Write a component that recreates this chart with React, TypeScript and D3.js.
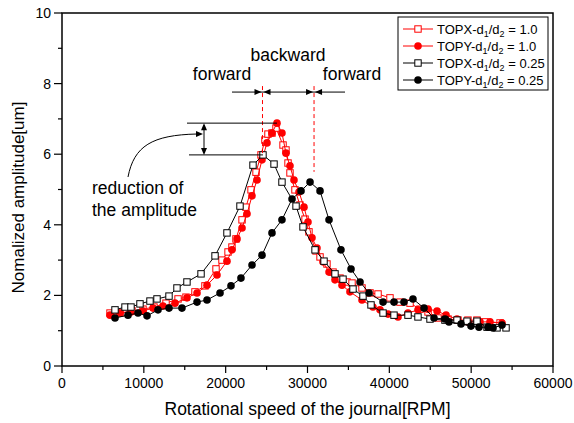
import React from "react";
import * as d3 from "d3";

const W = 574;
const H = 423;

// TOPX-d1/d2 = 1.0 (red open squares)
const topx10X = [5866, 7088, 8554, 9898, 11240, 12710, 14180, 15150, 16250, 17470, 18820, 19550, 20290, 20770, 21260, 22000, 22480, 23100, 23710, 24320, 24800, 25170, 25660, 26150, 27010, 27370, 27620, 27860, 28470, 29080, 29700, 30180, 31040, 31530, 32380, 33120, 33970, 34830, 35440, 36660, 37640, 38620, 40080, 41300, 42530, 43750, 44730, 45950, 47170, 48390, 49610, 50710, 51690, 53530];
const topx10Y = [1.5, 1.5, 1.56, 1.61, 1.67, 1.78, 1.9, 1.95, 2.1, 2.27, 2.75, 3.0, 3.23, 3.37, 3.6, 4.14, 4.5, 4.99, 5.49, 5.98, 6.4, 6.57, 6.6, 6.74, 6.26, 6.12, 5.75, 5.47, 4.99, 4.56, 4.16, 3.8, 3.26, 3.09, 2.89, 2.66, 2.49, 2.38, 2.35, 2.21, 2.07, 2.04, 1.93, 1.81, 1.78, 1.61, 1.53, 1.36, 1.33, 1.3, 1.3, 1.3, 1.25, 1.22];

// TOPY-d1/d2 = 1.0 (red filled circles)
const topy10X = [5866, 7088, 8432, 9898, 11120, 12340, 13810, 15275, 16500, 17720, 18940, 20160, 20770, 21390, 22000, 22610, 23220, 23830, 24440, 25050, 25660, 26270, 26880, 27370, 27860, 28350, 28960, 29570, 30060, 30550, 31160, 31890, 32630, 33360, 34220, 35190, 36660, 38000, 38860, 39840, 41060, 42280, 43500, 44730, 45830, 46930, 48270, 49610, 51080, 52300, 53770];
const topy10Y = [1.44, 1.5, 1.53, 1.56, 1.64, 1.7, 1.78, 1.93, 2.07, 2.29, 2.58, 2.97, 3.29, 3.6, 3.91, 4.31, 4.82, 5.27, 5.84, 6.32, 6.6, 6.88, 6.6, 6.03, 5.67, 5.27, 4.93, 4.5, 4.08, 3.63, 3.34, 2.95, 2.66, 2.44, 2.29, 2.1, 1.87, 1.67, 1.59, 1.47, 1.39, 1.5, 1.59, 1.61, 1.56, 1.44, 1.33, 1.25, 1.25, 1.25, 1.22];

// TOPX-d1/d2 = 0.25 (black open squares)
const topx025X = [6477, 7700, 8430, 9530, 10750, 11610, 13075, 14050, 15270, 16990, 18700, 20160, 21750, 23340, 24560, 25910, 26880, 28600, 29450, 30920, 32020, 33360, 34340, 35560, 36780, 37760, 39230, 40570, 42280, 43500, 44970, 46800, 48270, 49490, 50710, 51940, 53160, 54260];
const topx025Y = [1.59, 1.67, 1.67, 1.76, 1.84, 1.9, 1.98, 2.21, 2.38, 2.61, 3.12, 3.77, 4.53, 5.69, 5.98, 5.72, 5.21, 4.53, 3.94, 3.29, 2.97, 2.61, 2.46, 2.18, 1.98, 1.73, 1.5, 1.44, 1.44, 1.39, 1.33, 1.3, 1.3, 1.27, 1.27, 1.1, 1.08, 1.08];

// TOPY-d1/d2 = 0.25 (black filled circles)
const topy025X = [6477, 8065, 9290, 10390, 11730, 13075, 14660, 16500, 17720, 19310, 20650, 21870, 23220, 24440, 25660, 26880, 28110, 29210, 30310, 31530, 32630, 34090, 35320, 36420, 37520, 39230, 40570, 41790, 42890, 44240, 45460, 46800, 47290, 48760, 49980, 50960, 52060, 52670, 53770];
const topy025Y = [1.36, 1.44, 1.5, 1.42, 1.59, 1.64, 1.64, 1.81, 1.87, 2.07, 2.27, 2.49, 2.86, 3.14, 3.77, 4.14, 4.73, 4.96, 5.21, 4.96, 4.14, 3.29, 2.75, 2.38, 2.07, 1.81, 1.81, 1.81, 1.9, 1.64, 1.36, 1.33, 1.25, 1.19, 1.13, 1.1, 1.1, 1.08, 1.16];

const xTicks = [0, 10000, 20000, 30000, 40000, 50000, 60000];
const yTicks = [0, 2, 4, 6, 8, 10];
const xMinor = [5000, 15000, 25000, 35000, 45000, 55000];
const yMinor = [1, 3, 5, 7, 9];

const seriesNames = ["TOPX", "TOPY", "TOPX", "TOPY"];
const seriesRatios = ["1.0", "1.0", "0.25", "0.25"];

// annotation values
const dashedX = [24500, 30800];
const arrowY = 7.76;
const peakHigh = 6.88;
const peakLow = 5.98;

const FONT = "Arial, 'Liberation Sans', Helvetica, sans-serif";

export default function App() {
  const left = 62, right = 553, top = 13, bottom = 366;
  const x = d3.scaleLinear().domain([0, 60000]).range([left, right]);
  const y = d3.scaleLinear().domain([0, 10]).range([bottom, top]);

  const series = [
    { xs: topx10X, ys: topx10Y, color: "#ff0000", marker: "square" },
    { xs: topy10X, ys: topy10Y, color: "#ff0000", marker: "circle" },
    { xs: topx025X, ys: topx025Y, color: "#000000", marker: "square" },
    { xs: topy025X, ys: topy025Y, color: "#000000", marker: "circle" },
  ];

  const line = d3
    .line<[number, number]>()
    .x((d) => x(d[0]))
    .y((d) => y(d[1]));

  const marker = (m: string, cx: number, cy: number, color: string, key: any) =>
    m === "square" ? (
      <rect key={key} x={cx - 3.2} y={cy - 3.2} width={6.4} height={6.4} fill="#fff" stroke={color} strokeWidth={1} />
    ) : (
      <circle key={key} cx={cx} cy={cy} r={3.8} fill={color} stroke="none" />
    );

  const legendX = 398, legendY = 17;
  const ay = y(arrowY);
  const lx1 = x(dashedX[0]);
  const lx2 = x(dashedX[1]);
  const ahd = (px: number, py: number, dir: number, k: string) => (
    <path key={k} d={`M${px},${py} L${px - dir * 7},${py - 3} L${px - dir * 7},${py + 3} Z`} fill="#000" />
  );
  const ahv = (px: number, py: number, dir: number, k: string) => (
    <path key={k} d={`M${px},${py} L${px - 3},${py - dir * 7} L${px + 3},${py - dir * 7} Z`} fill="#000" />
  );

  const yHi = y(peakHigh);
  const yLo = y(peakLow);
  const vx = 204;

  return (
    <svg width={W} height={H} style={{ position: "absolute", left: 0, top: 0, background: "#fff" }} fontFamily={FONT}>
      <rect x={0} y={0} width={W} height={H} fill="#fff" />
      {/* series */}
      {series.map((s, i) => {
        const pts: [number, number][] = s.xs.map((v, j) => [v, s.ys[j]]);
        return (
          <g key={i}>
            <path d={line(pts) || ""} fill="none" stroke={s.color} strokeWidth={1} />
            {pts.map((p, j) => marker(s.marker, x(p[0]), y(p[1]), s.color, j))}
          </g>
        );
      })}

      {/* frame */}
      <rect x={left} y={top} width={right - left} height={bottom - top} fill="none" stroke="#000" strokeWidth={1.5} />

      {/* x ticks */}
      {xTicks.map((t) => (
        <g key={"xt" + t}>
          <line x1={x(t)} x2={x(t)} y1={bottom} y2={bottom + 7} stroke="#000" strokeWidth={1.2} />
          <text x={x(t)} y={388} textAnchor="middle" fontSize={14}>
            {t}
          </text>
        </g>
      ))}
      {xMinor.map((t) => (
        <line key={"xm" + t} x1={x(t)} x2={x(t)} y1={bottom} y2={bottom + 4} stroke="#000" strokeWidth={1.2} />
      ))}
      {yTicks.map((t) => (
        <g key={"yt" + t}>
          <line x1={left - 8} x2={left} y1={y(t)} y2={y(t)} stroke="#000" strokeWidth={1.2} />
          <text x={51} y={y(t) + 5} textAnchor="end" fontSize={14}>
            {t}
          </text>
        </g>
      ))}
      {yMinor.map((t) => (
        <line key={"ym" + t} x1={left - 4} x2={left} y1={y(t)} y2={y(t)} stroke="#000" strokeWidth={1.2} />
      ))}

      <text x={(left + right) / 2} y={415} textAnchor="middle" fontSize={17.5}>
        Rotational speed of the journal[RPM]
      </text>
      <text transform={`translate(24,${(top + bottom) / 2 + 8}) rotate(-90)`} textAnchor="middle" fontSize={17}>
        Nomalized amplitude[um]
      </text>

      {/* annotations: dashed lines */}
      <line x1={lx1} x2={lx1} y1={ay - 6} y2={y(peakLow)} stroke="#ff0000" strokeWidth={1} strokeDasharray="4,3" />
      <line x1={lx2} x2={lx2} y1={ay - 6} y2={y(5.5)} stroke="#ff0000" strokeWidth={1} strokeDasharray="4,3" />
      <line x1={232} x2={345} y1={ay} y2={ay} stroke="#000" strokeWidth={1} />
      {ahd(lx1 - 1, ay, 1, "a1")}
      {ahd(lx1 + 1, ay, -1, "a2")}
      {ahd(lx2 - 1, ay, 1, "a3")}
      {ahd(lx2 + 1, ay, -1, "a4")}
      <text x={222} y={80} textAnchor="middle" fontSize={17.5}>forward</text>
      <text x={288} y={61} textAnchor="middle" fontSize={17.5}>backward</text>
      <text x={352} y={80} textAnchor="middle" fontSize={17.5}>forward</text>

      {/* reduction arrows */}
      <line x1={187} x2={x(26270)} y1={yHi} y2={yHi} stroke="#000" strokeWidth={1} />
      <line x1={189} x2={x(24560)} y1={yLo} y2={yLo} stroke="#000" strokeWidth={1} />
      <line x1={vx} x2={vx} y1={yHi + 2} y2={yLo - 2} stroke="#000" strokeWidth={1} />
      {ahv(vx, yHi, -1, "v1")}
      {ahv(vx, yLo, 1, "v2")}
      <path d={`M128,177 C134,146 152,135 197,134`} fill="none" stroke="#000" strokeWidth={1} />
      {ahd(203, 134, 1, "c1")}
      <text x={92} y={194} fontSize={17.5}>reduction of</text>
      <text x={92} y={216} fontSize={17.5}>the amplitude</text>

      {/* legend */}
      <rect x={legendX} y={legendY} width={150} height={73} fill="#fff" stroke="#000" strokeWidth={1} />
      {series.map((s, i) => {
        const ly = 29 + i * 17;
        return (
          <g key={"lg" + i}>
            <line x1={403} x2={433} y1={ly} y2={ly} stroke={s.color} strokeWidth={1} />
            {marker(s.marker, 418, ly, s.color, "m" + i)}
            <text x={437} y={ly + 4.5} fontSize={13}>
              {seriesNames[i]}-d
              <tspan fontSize={9} dy={3}>1</tspan>
              <tspan dy={-3}>/d</tspan>
              <tspan fontSize={9} dy={3}>2</tspan>
              <tspan dy={-3}>{" = " + seriesRatios[i]}</tspan>
            </text>
          </g>
        );
      })}
    </svg>
  );
}
